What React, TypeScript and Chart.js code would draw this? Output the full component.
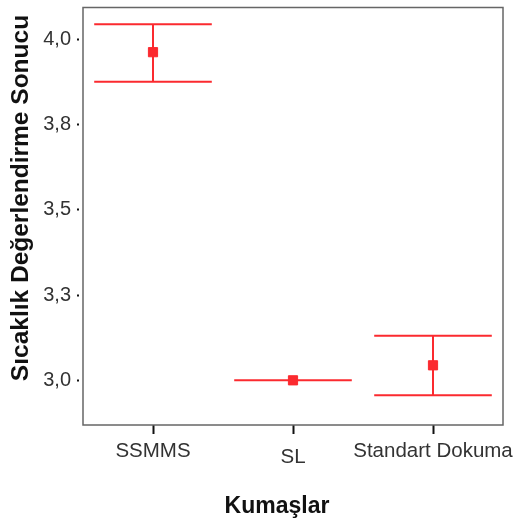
import React, { useEffect, useRef } from "react";
import { Chart, registerables } from "chart.js";

Chart.register(...registerables);

const categories = ["SSMMS", "SL", "Standart Dokuma"];
const means = [3.962, 3.0, 3.044];
const upper = [4.044, 3.0, 3.131];
const lower = [3.875, 3.0, 2.956];
const yTicks = [3.0, 3.25, 3.5, 3.75, 4.0];
const yTickLabels = ["3,0", "3,3", "3,5", "3,8", "4,0"];
const yTitle = "Sıcaklık Değerlendirme Sonucu";
const xTitle = "Kumaşlar";

const RED = "#fb2a2f";
const FONT = "Liberation Sans, Arial, sans-serif";

const errorBarPlugin = {
  id: "errorBars",
  beforeDatasetsDraw(chart: any) {
    const { ctx, chartArea, scales } = chart;
    const xs = scales.x;
    const ys = scales.y;
    ctx.save();
    ctx.strokeStyle = "#666";
    ctx.lineWidth = 1.5;
    ctx.strokeRect(chartArea.left, chartArea.top, chartArea.right - chartArea.left, chartArea.bottom - chartArea.top);
    const catW = xs.getPixelForValue(1) - xs.getPixelForValue(0);
    const half = catW * 0.42;
    ctx.strokeStyle = RED;
    ctx.lineWidth = 2;
    for (let i = 0; i < categories.length; i++) {
      const x = xs.getPixelForValue(i);
      const yu = ys.getPixelForValue(upper[i]);
      const yl = ys.getPixelForValue(lower[i]);
      ctx.beginPath();
      ctx.moveTo(x, yu);
      ctx.lineTo(x, yl);
      ctx.moveTo(x - half, yu);
      ctx.lineTo(x + half, yu);
      ctx.moveTo(x - half, yl);
      ctx.lineTo(x + half, yl);
      ctx.stroke();
    }
    ctx.restore();
  },
  afterDraw(chart: any) {
    const { ctx } = chart;
    ctx.save();
    ctx.fillStyle = "#111";
    ctx.textAlign = "center";
    ctx.textBaseline = "alphabetic";
    ctx.font = `bold 23px ${FONT}`;
    ctx.fillText(xTitle, 277, 513);
    ctx.translate(28, 198);
    ctx.rotate(-Math.PI / 2);
    ctx.font = `bold 24.5px ${FONT}`;
    ctx.fillText(yTitle, 0, 0);
    ctx.restore();
  },
};

export default function App() {
  const ref = useRef<HTMLCanvasElement>(null);
  useEffect(() => {
    if (!ref.current) return;
    const chart = new Chart(ref.current, {
      type: "line",
      data: {
        labels: categories,
        datasets: [
          {
            data: means,
            showLine: false,
            pointStyle: "rect",
            pointRadius: 6.5,
            pointBackgroundColor: RED,
            pointBorderColor: RED,
            pointBorderWidth: 1,
          },
        ],
      },
      options: {
        animation: false,
        responsive: false,
        layout: { padding: { top: 1, right: 10, left: 0, bottom: 0 } },
        plugins: { legend: { display: false }, tooltip: { enabled: false } },
        scales: {
          x: {
            type: "category",
            offset: true,
            grid: { display: true, drawOnChartArea: false, tickLength: 9, tickWidth: 2, tickColor: "#111", offset: false },
            border: { display: false },
            ticks: {
              color: "#333",
              font: (c: any) => ({ family: FONT, size: 20.5, lineHeight: c.index === 1 ? 1.75 : 1.2 }),
              padding: 5,
              maxRotation: 0,
              autoSkip: false,
            },
            title: { display: false },
            afterFit(scale: any) { scale.height = 96; scale.paddingLeft = 0; scale.paddingRight = 0; },
          },
          y: {
            min: 2.869,
            max: 4.093,
            afterBuildTicks(scale: any) { scale.ticks = yTicks.map((v) => ({ value: v })); },
            grid: { display: true, drawOnChartArea: false, tickLength: 6, tickWidth: 2, tickColor: "#111", tickBorderDash: [2, 10] },
            border: { display: false },
            ticks: {
              color: "#333",
              font: { family: FONT, size: 20 },
              padding: 6,
              callback: (v: any) => { const i = yTicks.indexOf(Number(v)); return i >= 0 ? yTickLabels[i] : ""; },
            },
            afterFit(scale: any) { scale.width = 83; scale.paddingTop = 0; scale.paddingBottom = 0; },
          },
        },
      },
      plugins: [errorBarPlugin],
    } as any);
    return () => chart.destroy();
  }, []);
  return (
    <div style={{ position: "fixed", left: 0, top: 0, width: 513, height: 521, background: "#fff" }}>
      <canvas ref={ref} width={513} height={521} style={{ display: "block" }} />
    </div>
  );
}
